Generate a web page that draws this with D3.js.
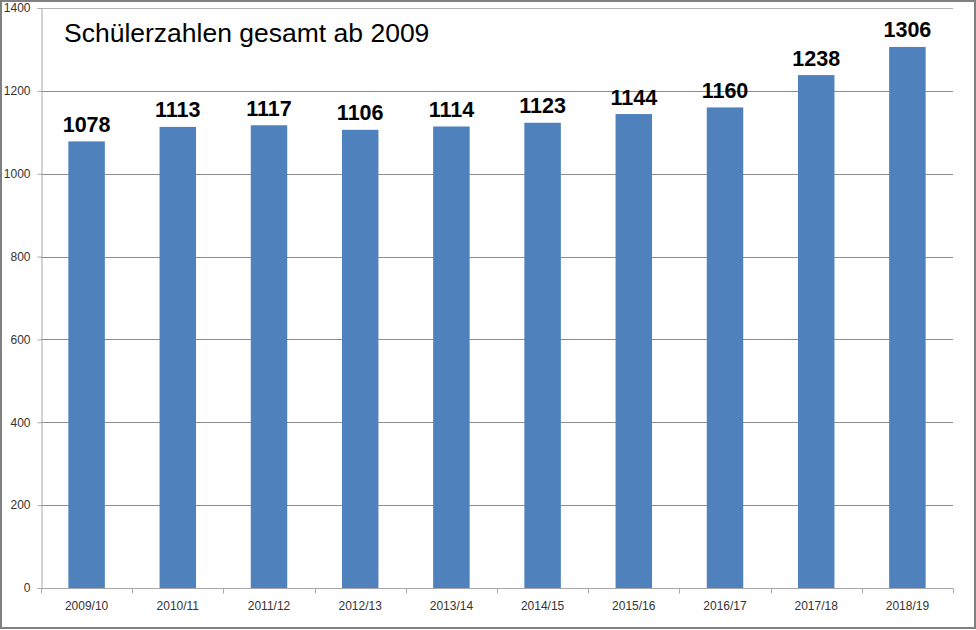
<!DOCTYPE html>
<html><head><meta charset="utf-8">
<script src="https://cdn.jsdelivr.net/npm/d3@7"></script>
<style>body{margin:0;background:#fff}svg{display:block}</style>
</head><body>
<script>
const categories = ["2009/10","2010/11","2011/12","2012/13","2013/14","2014/15","2015/16","2016/17","2017/18","2018/19"];
const values = [1078,1113,1117,1106,1114,1123,1144,1160,1238,1306];
const yTicks = [0,200,400,600,800,1000,1200,1400];
const title = "Schülerzahlen gesamt ab 2009";

const W = 976, H = 630;
const m = {left:41, right:23, top:8, bottom:42};
const svg = d3.select("body").append("svg").attr("width",W).attr("height",H);
svg.append("rect").attr("x",1).attr("y",1).attr("width",W-2).attr("height",H-3)
  .attr("fill","#fff").attr("stroke","#808080").attr("stroke-width",2);

const x = d3.scaleBand().domain(categories).range([m.left, W-m.right]).paddingInner(0.6).paddingOuter(0.3);
const y = d3.scaleLinear().domain([0,1400]).range([H-m.bottom, m.top]);

// gridlines
svg.append("g").selectAll("line").data(yTicks.filter(d=>d>0)).join("line")
  .attr("x1",m.left).attr("x2",W-m.right)
  .attr("y1",d=>Math.round(y(d))+0.5).attr("y2",d=>Math.round(y(d))+0.5)
  .attr("stroke",d=>d===1400?"#b4b4b4":"#8c8c8c").attr("stroke-width",1);

// y axis
const ya = svg.append("g").attr("transform",`translate(${m.left+0.5},0)`)
  .call(d3.axisLeft(y).tickValues(yTicks).tickSize(4).tickPadding(7).tickFormat(d3.format("d")));
ya.select(".domain").attr("stroke","#a8a8a8");
ya.selectAll(".tick line").attr("stroke","#a8a8a8");
ya.selectAll("text").attr("font-family","Liberation Sans, Arial, sans-serif").attr("font-size",12).attr("fill","#333");

// x axis with ticks at category boundaries
const xa = svg.append("g").attr("transform",`translate(0,${Math.round(y(0))+0.5})`);
xa.append("line").attr("x1",m.left).attr("x2",W-m.right).attr("stroke","#a8a8a8");
const step = x.step();
const bounds = d3.range(categories.length+1).map(i => m.left + i*step);
xa.selectAll("line.t").data(bounds).join("line").attr("class","t")
  .attr("x1",d=>Math.round(d)+0.5).attr("x2",d=>Math.round(d)+0.5).attr("y1",0).attr("y2",5)
  .attr("stroke","#a8a8a8");
xa.selectAll("text").data(categories).join("text")
  .attr("x",d=>x(d)+x.bandwidth()/2).attr("y",21)
  .attr("text-anchor","middle")
  .attr("font-family","Liberation Sans, Arial, sans-serif").attr("font-size",12).attr("fill","#333")
  .text(d=>d);

// bars
svg.append("g").selectAll("rect").data(values).join("rect")
  .attr("x",(d,i)=>x(categories[i])).attr("width",x.bandwidth())
  .attr("y",d=>y(d)).attr("height",d=>y(0)-y(d))
  .attr("fill","#4F81BD");

// value labels
svg.append("g").selectAll("text").data(values).join("text")
  .attr("x",(d,i)=>x(categories[i])+x.bandwidth()/2).attr("y",d=>y(d)-9.5)
  .attr("text-anchor","middle")
  .attr("font-family","Liberation Sans, Arial, sans-serif").attr("font-size",21.5).attr("font-weight","bold").attr("fill","#000")
  .text(d=>d);

// title
svg.append("text").attr("x",64).attr("y",42)
  .attr("font-family","Liberation Sans, Arial, sans-serif").attr("font-size",26.5).attr("fill","#000")
  .text(title);
</script>
</body></html>
